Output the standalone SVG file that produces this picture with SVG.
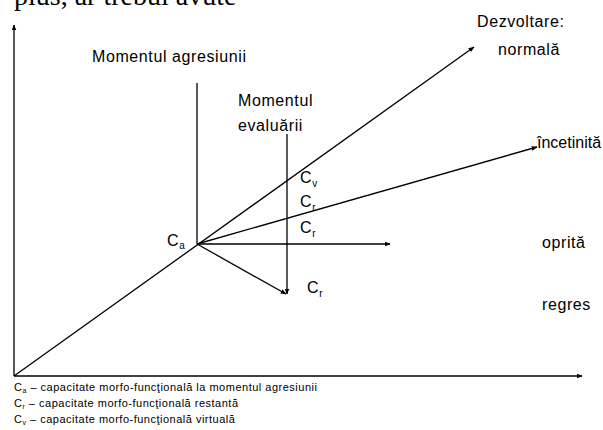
<svg xmlns="http://www.w3.org/2000/svg" width="603" height="430" viewBox="0 0 603 430">
<style>
.l{stroke:#000;stroke-width:1.3;fill:none}
.t{font-family:"Liberation Sans",Arial,sans-serif;font-size:16px;letter-spacing:0.6px;fill:#000}
.s{font-size:10px}
.g{font-family:"Liberation Sans",Arial,sans-serif;font-size:11px;letter-spacing:0.5px;fill:#000}
.gs{font-size:7px}
</style>
<defs>
<marker id="a" viewBox="0 0 10 10" refX="9" refY="5" markerWidth="6" markerHeight="6" orient="auto" markerUnits="userSpaceOnUse"><path d="M0,1 L10,5 L0,9 z" fill="#000"/></marker>
</defs>
<text x="14" y="5" font-family="Liberation Serif,serif" font-size="28" fill="#000">plus, ar trebui avute</text>
<g id="connectors">
<line class="l" x1="14" y1="376" x2="14" y2="25" marker-end="url(#a)"/>
<line class="l" x1="14" y1="376" x2="582" y2="376" marker-end="url(#a)"/>
<line class="l" x1="14" y1="376" x2="474" y2="47" marker-end="url(#a)"/>
<line class="l" x1="197" y1="244" x2="197" y2="83"/>
<line class="l" x1="287" y1="134" x2="287" y2="294" marker-end="url(#a)"/>
<line class="l" x1="197" y1="244" x2="537" y2="147" marker-end="url(#a)"/>
<line class="l" x1="197" y1="244" x2="390" y2="244" marker-end="url(#a)"/>
<line class="l" x1="197" y1="244" x2="286" y2="294" marker-end="url(#a)"/>
</g>
<g id="labels">
<text class="t" x="92" y="62">Momentul agresiunii</text>
<text class="t" x="238" y="106">Momentul</text>
<text class="t" x="238" y="131">evaluării</text>
<text class="t" x="477" y="27">Dezvoltare:</text>
<text class="t" x="498" y="55">normală</text>
<text class="t" x="537" y="148" style="letter-spacing:0">încetinită</text>
<text class="t" x="542" y="248">oprită</text>
<text class="t" x="542" y="310">regres</text>
<text class="t" x="167" y="246">C<tspan class="s" dy="3">a</tspan></text>
<text class="t" x="300" y="183">C<tspan class="s" dy="4">v</tspan></text>
<text class="t" x="300" y="207">C<tspan class="s" dy="4">r</tspan></text>
<text class="t" x="300" y="233">C<tspan class="s" dy="4">r</tspan></text>
<text class="t" x="307" y="293">C<tspan class="s" dy="4">r</tspan></text>
</g>
<g id="legend">
<text class="g" x="14" y="391">C<tspan class="gs" dy="2">a</tspan><tspan dy="-2"> – capacitate morfo-funcţională la momentul agresiunii</tspan></text>
<text class="g" x="14" y="407">C<tspan class="gs" dy="2">r</tspan><tspan dy="-2"> – capacitate morfo-funcţională restantă</tspan></text>
<text class="g" x="14" y="423">C<tspan class="gs" dy="2">v</tspan><tspan dy="-2"> – capacitate morfo-funcţională virtuală</tspan></text>
</g>
</svg>
